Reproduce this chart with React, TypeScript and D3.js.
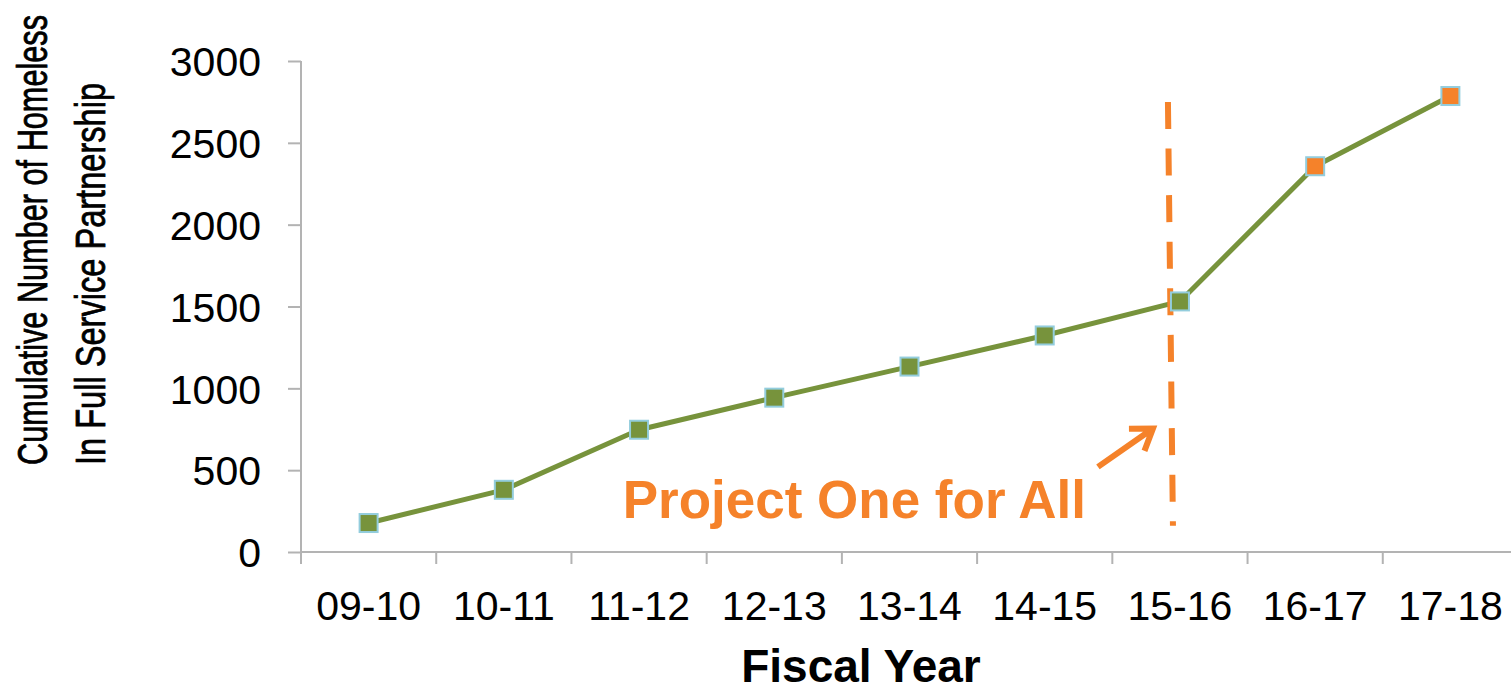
import { useEffect, useRef } from 'react'
import * as d3 from 'd3'

const years = ['09-10', '10-11', '11-12', '12-13', '13-14', '14-15', '15-16', '16-17', '17-18']
const cumulative = [177, 380, 747, 943, 1133, 1323, 1531, 2357, 2786]
// years after the program started get the orange marker
const afterProgram = [false, false, false, false, false, false, false, true, true]
const yTicks = [0, 500, 1000, 1500, 2000, 2500, 3000]

const GREEN = '#77933C'
const ORANGE = '#F5822A'
const BORDER = '#93CDDD'
const AXIS = '#B3B3B3'
const FONT = "'Liberation Sans', Arial, sans-serif"

export default function App() {
  const ref = useRef<SVGSVGElement>(null)

  useEffect(() => {
    if (!ref.current) return
    const W = 1511
    const H = 688

    d3.select(ref.current).selectAll('*').remove()
    const svg = d3.select(ref.current).attr('width', W).attr('height', H).style('font-family', FONT)

    const x = d3.scaleBand().domain(years).range([301, 1518]).padding(0)
    const xc = (d: string) => x(d)! + x.bandwidth() / 2
    const y = d3.scaleLinear().domain([0, 3000]).range([552, 61])

    // Y axis
    const yAxis = svg.append('g')
      .attr('transform', 'translate(301,0)')
      .call(d3.axisLeft(y).tickValues(yTicks).tickSize(13).tickPadding(27).tickFormat((v) => `${v}`))
    yAxis.select('.domain').attr('stroke', AXIS).attr('stroke-width', 2).attr('d', `M0,${y(3000)}V${y(0)}`)
    yAxis.selectAll('.tick line').attr('stroke', AXIS).attr('stroke-width', 2)
    yAxis.selectAll('.tick text')
      .attr('font-size', 41).attr('fill', '#000').attr('font-family', FONT).attr('dy', '0.36em')

    // X axis baseline and band ticks
    svg.append('line')
      .attr('x1', 301).attr('x2', W).attr('y1', y(0)).attr('y2', y(0))
      .attr('stroke', AXIS).attr('stroke-width', 2)
    svg.selectAll('.xtick')
      .data(years)
      .join('line')
      .attr('class', 'xtick')
      .attr('x1', (d) => x(d)!).attr('x2', (d) => x(d)!)
      .attr('y1', y(0)).attr('y2', y(0) + 12)
      .attr('stroke', AXIS).attr('stroke-width', 2)
    svg.selectAll('.xlabel')
      .data(years)
      .join('text')
      .attr('class', 'xlabel')
      .attr('x', (d) => xc(d))
      .attr('y', 620)
      .attr('text-anchor', 'middle')
      .attr('font-size', 41)
      .attr('fill', '#000')
      .text((d) => d)

    // Axis titles
    svg.append('text')
      .attr('x', 861).attr('y', 682)
      .attr('text-anchor', 'middle')
      .attr('font-size', 46).attr('font-weight', 'bold')
      .attr('fill', '#000')
      .text('Fiscal Year')

    // narrow title: Arial glyphs squeezed to the reference's length
    const yTitle = [
      { text: 'Cumulative Number of Homeless', base: 47, len: 450 },
      { text: 'In Full Service Partnership', base: 105, len: 382 },
    ]
    svg.selectAll('.ytitle')
      .data(yTitle)
      .join('text')
      .attr('class', 'ytitle')
      .attr('transform', (d) => `translate(${d.base},465) rotate(-90)`)
      .attr('font-size', 43)
      .attr('fill', '#000')
      .attr('stroke', '#000')
      .attr('stroke-width', 0.8)
      .attr('textLength', (d) => d.len)
      .attr('lengthAdjust', 'spacingAndGlyphs')
      .text((d) => d.text)

    // Series line
    const line = d3.line<number>().x((_, i) => xc(years[i])).y((v) => y(v))
    svg.append('path')
      .datum(cumulative)
      .attr('d', line)
      .attr('fill', 'none')
      .attr('stroke', GREEN)
      .attr('stroke-width', 5)
      .attr('stroke-linejoin', 'round')

    // Program start annotation: dashed line
    const px = xc('15-16')
    svg.append('line')
      .attr('x1', px - 12).attr('y1', y(2750))
      .attr('x2', px - 7).attr('y2', y(160))
      .attr('stroke', ORANGE)
      .attr('stroke-width', 6)
      .attr('stroke-dasharray', '27,19.6')

    // Markers
    const s = 18
    svg.selectAll('.marker')
      .data(cumulative)
      .join('rect')
      .attr('class', 'marker')
      .attr('x', (_, i) => xc(years[i]) - s / 2)
      .attr('y', (v) => y(v) - s / 2)
      .attr('width', s).attr('height', s)
      .attr('fill', (_, i) => (afterProgram[i] ? ORANGE : GREEN))
      .attr('stroke', BORDER)
      .attr('stroke-width', 2)

    // Arrow pointing to the dashed line
    const tail: [number, number] = [px - 82, y(520)]
    const tip: [number, number] = [px - 27, y(755)]
    const ang = Math.atan2(tip[1] - tail[1], tip[0] - tail[0])
    const head = 24
    const arm = (da: number): [number, number] => [
      tip[0] - head * Math.cos(ang + da),
      tip[1] - head * Math.sin(ang + da),
    ]
    const a1 = arm(0.6)
    const a2 = arm(-0.6)
    svg.append('path')
      .attr('d', `M${tail[0]},${tail[1]}L${tip[0]},${tip[1]}M${a1[0]},${a1[1]}L${tip[0]},${tip[1]}L${a2[0]},${a2[1]}`)
      .attr('fill', 'none')
      .attr('stroke', ORANGE)
      .attr('stroke-width', 6)
      .attr('stroke-linecap', 'butt')
      .attr('stroke-linejoin', 'miter')

    svg.append('text')
      .attr('x', 1086).attr('y', 518)
      .attr('text-anchor', 'end')
      .attr('font-size', 53).attr('font-weight', 'bold')
      .attr('fill', ORANGE)
      .text('Project One for All')
  }, [])

  return (
    <svg ref={ref} style={{ position: 'absolute', left: 0, top: 0, display: 'block', background: '#fff' }} />
  )
}
